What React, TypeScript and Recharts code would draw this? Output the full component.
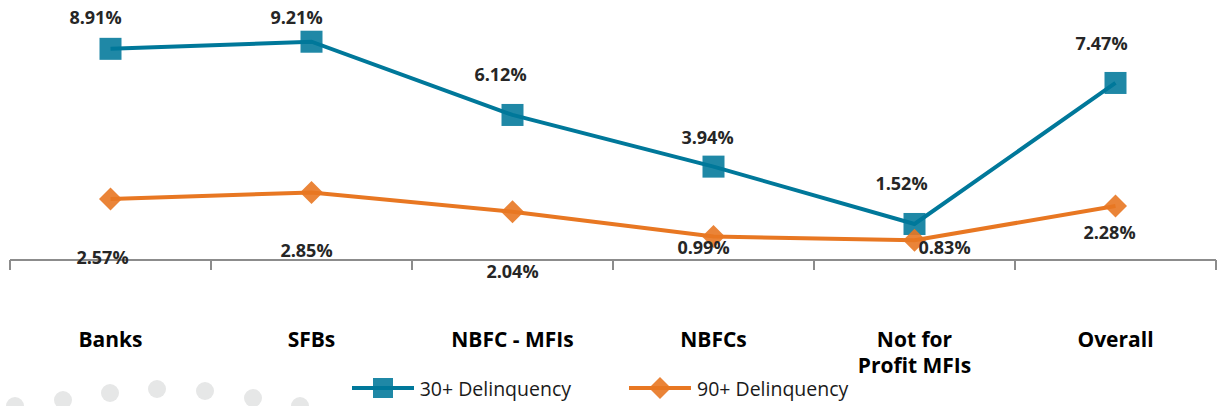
import React from 'react';
import { LineChart, Line, XAxis, YAxis, Legend } from 'recharts';

const categories = ['Banks', 'SFBs', 'NBFC - MFIs', 'NBFCs', 'Not for\nProfit MFIs', 'Overall'];
const delinq30 = [8.91, 9.21, 6.12, 3.94, 1.52, 7.47];
const delinq90 = [2.57, 2.85, 2.04, 0.99, 0.83, 2.28];
const seriesNames = ['30+ Delinquency', '90+ Delinquency'];
const yDomain = [0, 10];

// pos = band centre in "category units", used only by the boundary-tick axis
const data = categories.map((cat, i) => ({ cat, pos: i + 0.5, d30: delinq30[i], d90: delinq90[i] }));
const boundaryTicks = [...categories.map((_, i) => i), categories.length];

const BLUE = '#00789a';
const ORANGE = '#e87722';
const FONT = '"Open Sans", "Noto Sans", sans-serif';

// label nudges (like manually placed data labels), relative to the point
const nudge30 = [[-15, -31], [-15, -24], [-12, -40], [-6, -29], [-13, -40], [-14, -39]];
const nudge90 = [[-8, 58], [-5, 58], [0, 60], [-10, 11], [30, 7], [-6, 27]];

const makeLabel = (nudges: number[][]) => (props: any) => {
  const { x, y, value, index } = props;
  const [dx, dy] = nudges[index] || [0, -20];
  return (
    <text
      key={`lbl-${index}`}
      x={x + dx}
      y={y + dy}
      dy="0.36em"
      textAnchor="middle"
      fontFamily={FONT}
      fontWeight={700}
      fontSize={18}
      fill="#262626"
    >
      {`${Number(value).toFixed(2)}%`}
    </text>
  );
};

const SquareDot = (props: any) => {
  const { cx, cy, index } = props;
  const s = 22;
  return (
    <rect key={`sq-${index}`} x={cx - s / 2} y={cy - s / 2} width={s} height={s} fill={BLUE} fillOpacity={0.88} />
  );
};

const DiamondDot = (props: any) => {
  const { cx, cy, index } = props;
  const r = 11.5;
  return (
    <polygon
      key={`dm-${index}`}
      points={`${cx},${cy - r} ${cx + r},${cy} ${cx},${cy + r} ${cx - r},${cy}`}
      fill={ORANGE}
      fillOpacity={0.9}
    />
  );
};

const EmptyTick = () => <g />;

const CatTick = (props: any) => {
  const { x, y, payload } = props;
  const lines = String(payload.value).split('\n');
  return (
    <text x={x} y={y} textAnchor="middle" fontFamily={FONT} fontWeight={700} fontSize={21} fill="#000">
      {lines.map((l, i) => (
        <tspan key={i} x={x} dy={i === 0 ? 77 : 26}>
          {l}
        </tspan>
      ))}
    </text>
  );
};

const LegendContent = () => {
  const items = [
    { name: seriesNames[0], color: BLUE, shape: 'square' },
    { name: seriesNames[1], color: ORANGE, shape: 'diamond' },
  ];
  return (
    <div
      style={{
        height: 36,
        display: 'flex',
        justifyContent: 'center',
        alignItems: 'center',
        gap: 58,
        paddingRight: 26,
        fontFamily: FONT,
        fontSize: 19.5,
        color: '#1a1a1a',
      }}
    >
      {items.map((it) => (
        <div key={it.name} style={{ display: 'flex', alignItems: 'center', gap: 6 }}>
          <svg width={62} height={24}>
            <line x1={0} y1={12} x2={62} y2={12} stroke={it.color} strokeWidth={4} />
            {it.shape === 'square' ? (
              <rect x={21} y={2} width={20} height={20} fill={it.color} fillOpacity={0.88} />
            ) : (
              <polygon points="31,1 42,12 31,23 20,12" fill={it.color} fillOpacity={0.9} />
            )}
          </svg>
          <span>{it.name}</span>
        </div>
      ))}
    </div>
  );
};

const dots = [
  [15, 406], [63, 400], [110, 393], [157, 389], [205, 391], [253, 398], [300, 406],
];

export default function App() {
  return (
    <div style={{ position: 'absolute', left: 0, top: 0, width: 1217, height: 406, background: '#fff' }}>
      <svg width={1217} height={406} style={{ position: 'absolute', left: 0, top: 0 }}>
        {dots.map(([cx, cy], i) => (
          <circle key={i} cx={cx} cy={cy} r={9} fill="#e6e7e7" />
        ))}
      </svg>
      <div style={{ position: 'absolute', left: 0, top: 0 }}>
        <LineChart width={1217} height={406} data={data} margin={{ top: 23, right: 1, left: 10, bottom: 0 }}>
          <XAxis
            xAxisId="bounds"
            type="number"
            dataKey="pos"
            domain={[0, categories.length]}
            allowDataOverflow
            ticks={boundaryTicks}
            interval={0}
            tick={<EmptyTick />}
            tickSize={10}
            tickLine={{ stroke: '#8c8c8c', strokeWidth: 2 }}
            axisLine={{ stroke: '#8c8c8c', strokeWidth: 2 }}
            stroke="#8c8c8c"
            height={10}
          />
          <XAxis
            xAxisId="cat"
            dataKey="cat"
            scale="band"
            axisLine={false}
            tickLine={false}
            tickSize={0}
            tickMargin={0}
            interval={0}
            tick={<CatTick />}
            height={100}
          />
          <YAxis hide domain={yDomain} />
          <Legend verticalAlign="bottom" content={<LegendContent />} />
          <Line
            xAxisId="cat"
            dataKey="d30"
            name={seriesNames[0]}
            stroke={BLUE}
            strokeWidth={4}
            dot={SquareDot}
            activeDot={false}
            label={makeLabel(nudge30)}
            isAnimationActive={false}
          />
          <Line
            xAxisId="cat"
            dataKey="d90"
            name={seriesNames[1]}
            stroke={ORANGE}
            strokeWidth={4}
            dot={DiamondDot}
            activeDot={false}
            label={makeLabel(nudge90)}
            isAnimationActive={false}
          />
        </LineChart>
      </div>
    </div>
  );
}
